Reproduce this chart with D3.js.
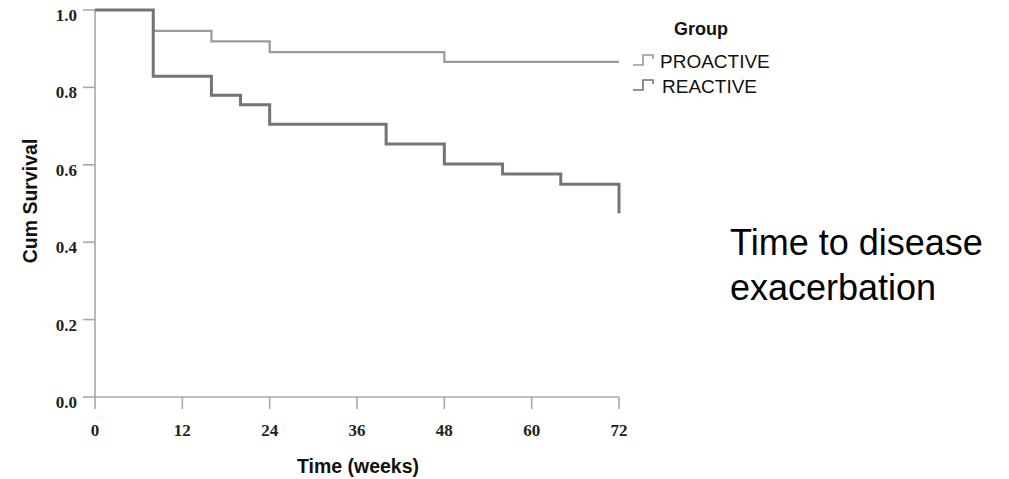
<!DOCTYPE html>
<html lang="en">
<head>
  <meta charset="UTF-8">
  <title>Time to disease exacerbation</title>
  <style>
    body { margin: 0; background: #fff; overflow: hidden; }
    svg { display: block; }
    .tick-label { font-family: "Liberation Serif", "DejaVu Serif", serif; font-weight: bold; font-size: 17px; fill: #222; }
    .axis-title { font-family: "Liberation Sans", Arial, sans-serif; font-weight: bold; font-size: 19.5px; fill: #111; }
    .legend-text { font-family: "Liberation Sans", Arial, sans-serif; font-size: 19px; fill: #111; }
  </style>
</head>
<body>
  <script src="https://d3js.org/d3.v7.min.js"></script>
  <script>
    // Kaplan-Meier steps
    const proTimes = [0, 8, 16, 24, 48, 72];
    const proSurv  = [1.0, 0.946, 0.919, 0.891, 0.866, 0.866];
    const reaTimes = [0, 8, 16, 20, 24, 40, 48, 56, 64, 72];
    const reaSurv  = [1.0, 0.829, 0.780, 0.755, 0.705, 0.654, 0.602, 0.576, 0.550, 0.475];

    const xTicks = [0, 12, 24, 36, 48, 60, 72];
    const yTicks = [0, 0.2, 0.4, 0.6, 0.8, 1.0];
    const groups = ["PROACTIVE", "REACTIVE"];
    const groupColors = ["#9a9a9a", "#747474"];
    const groupWidths = [2.2, 3];

    const width = 1009, height = 479;
    const svg = d3.select("body").append("svg").attr("width", width).attr("height", height);

    const x = d3.scaleLinear().domain([0, 72]).range([95, 619]);
    const y = d3.scaleLinear().domain([0, 1]).range([397, 10]);
    const axisColor = "#a8a8a8";
    const fmt = d3.format(".1f");

    // axes lines
    const axes = svg.append("g").attr("stroke", axisColor).attr("stroke-width", 1.6).attr("fill", "none");
    axes.append("line").attr("x1", x(0)).attr("x2", x(0)).attr("y1", y(1)).attr("y2", y(0));
    axes.append("line").attr("x1", x(0)).attr("x2", x(72)).attr("y1", y(0)).attr("y2", y(0));

    // y ticks
    const yt = svg.append("g").selectAll("g").data(yTicks).join("g")
      .attr("transform", d => `translate(${x(0)},${y(d)})`);
    yt.append("line").attr("x1", -12).attr("x2", 0)
      .attr("stroke", axisColor).attr("stroke-width", 1.6);
    yt.append("text").attr("class", "tick-label")
      .attr("x", -18).attr("y", 11).attr("text-anchor", "end").text(d => fmt(d));

    // x ticks
    const xt = svg.append("g").selectAll("g").data(xTicks).join("g")
      .attr("transform", d => `translate(${x(d)},${y(0)})`);
    xt.append("line").attr("y1", 0).attr("y2", 12)
      .attr("stroke", axisColor).attr("stroke-width", 1.6);
    xt.append("text").attr("class", "tick-label")
      .attr("y", 39).attr("text-anchor", "middle").text(d => d);

    // curves
    const line = d3.line().x(d => x(d[0])).y(d => y(d[1])).curve(d3.curveStepAfter);
    const series = [d3.zip(proTimes, proSurv), d3.zip(reaTimes, reaSurv)];
    series.forEach((s, i) => {
      svg.append("path").datum(s)
        .attr("fill", "none")
        .attr("stroke", groupColors[i])
        .attr("stroke-width", groupWidths[i])
        .attr("d", line);
    });

    // axis titles
    svg.append("text").attr("class", "axis-title")
      .attr("transform", `translate(37,201) rotate(-90)`)
      .attr("text-anchor", "middle").text("Cum Survival");
    svg.append("text").attr("class", "axis-title")
      .attr("x", 358).attr("y", 473).attr("text-anchor", "middle").text("Time (weeks)");

    // legend
    const legend = svg.append("g");
    legend.append("text").attr("class", "axis-title").attr("x", 674).attr("y", 35)
      .style("font-size", "18px").text("Group");
    groups.forEach((g, i) => {
      const base = 65 + i * 25;
      legend.append("path")
        .attr("fill", "none")
        .attr("stroke", groupColors[i])
        .attr("stroke-width", 1.6)
        .attr("d", `M633,${base}H643V${base - 10}H653V${base - 6}`);
      legend.append("text").attr("class", "legend-text")
        .attr("x", 660 + i * 2).attr("y", base + 3).text(g);
    });

    // annotation
    const note = svg.append("text")
      .attr("font-family", "Liberation Sans, Arial, sans-serif")
      .attr("font-size", 36).attr("fill", "#000");
    note.append("tspan").attr("x", 730).attr("y", 255).text("Time to disease");
    note.append("tspan").attr("x", 730).attr("y", 300).text("exacerbation");
  </script>
</body>
</html>
